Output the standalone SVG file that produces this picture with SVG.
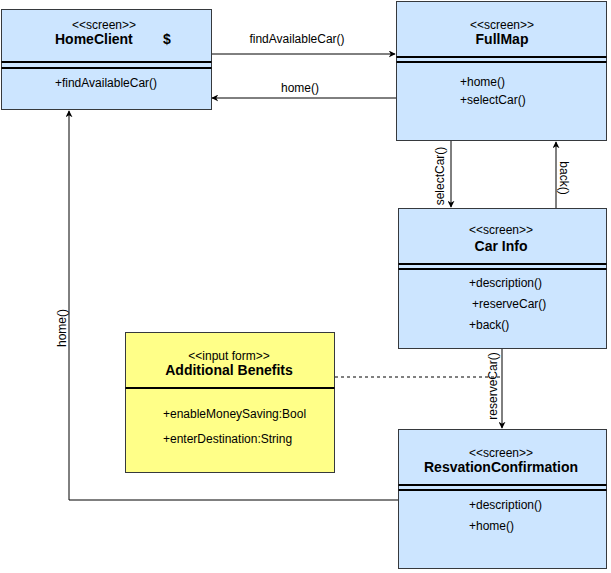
<svg xmlns="http://www.w3.org/2000/svg" width="611" height="573" viewBox="0 0 611 573">
<style>
.box{fill:#cce5ff;stroke:#36393d;stroke-width:1}
.yel{fill:#ffff88;stroke:#36393d;stroke-width:1}
.sep{stroke:#000;stroke-width:2}
.t{font-family:"Liberation Sans",Arial,sans-serif;font-size:12px;fill:#000}
.b{font-family:"Liberation Sans",Arial,sans-serif;font-size:14px;font-weight:bold;fill:#000}
.c{text-anchor:middle}
.e{fill:none;stroke:#000;stroke-width:1}
.d{fill:none;stroke:#000;stroke-width:1;stroke-dasharray:3 3}
</style>
<defs>
<marker id="ah" viewBox="0 0 10 10" refX="9" refY="5" markerWidth="7" markerHeight="7" orient="auto" markerUnits="userSpaceOnUse">
<path d="M0,0 L10,5 L0,10 L3,5 Z" fill="#000"/>
</marker>
</defs>
<g id="connectors">
<line class="e" x1="211" y1="54" x2="395" y2="54" marker-end="url(#ah)"/>
<text class="t c" x="297" y="43">findAvailableCar()</text>
<line class="e" x1="396" y1="98" x2="212" y2="98" marker-end="url(#ah)"/>
<text class="t c" x="300" y="92">home()</text>
<line class="e" x1="451" y1="141" x2="451" y2="207" marker-end="url(#ah)"/>
<text class="t c" transform="translate(444,176) rotate(-90)">selectCar()</text>
<line class="e" x1="556" y1="208" x2="556" y2="142" marker-end="url(#ah)"/>
<text class="t c" transform="translate(560,178) rotate(90)">back()</text>
<line class="e" x1="502" y1="349" x2="502" y2="428" marker-end="url(#ah)"/>
<text class="t c" transform="translate(497,386) rotate(-90)">reserveCar()</text>
<line class="d" x1="335" y1="377" x2="502" y2="377"/>
<polyline class="e" points="398,500 69,500 69,111" marker-end="url(#ah)"/>
<text class="t c" transform="translate(66,328) rotate(-90)">home()</text>
</g>
<g id="HomeClient">
<rect class="box" x="1.5" y="9.5" width="210" height="100"/>
<line class="sep" x1="1.5" y1="62" x2="211.5" y2="62"/>
<line class="sep" x1="1.5" y1="68" x2="211.5" y2="68"/>
<text class="t c" x="104" y="29">&lt;&lt;screen&gt;&gt;</text>
<text class="b" x="55" y="44">HomeClient<tspan x="163">$</tspan></text>
<text class="t c" x="106" y="87">+findAvailableCar()</text>
</g>
<g id="FullMap">
<rect class="box" x="396.5" y="1.5" width="210" height="139"/>
<line class="sep" x1="396.5" y1="57" x2="606.5" y2="57"/>
<line class="sep" x1="396.5" y1="62" x2="606.5" y2="62"/>
<text class="t c" x="502" y="29">&lt;&lt;screen&gt;&gt;</text>
<text class="b c" x="502" y="44">FullMap</text>
<text class="t" x="460" y="86">+home()</text>
<text class="t" x="460" y="104">+selectCar()</text>
</g>
<g id="CarInfo">
<rect class="box" x="398.5" y="208.5" width="208" height="140"/>
<line class="sep" x1="398.5" y1="264" x2="606.5" y2="264"/>
<line class="sep" x1="398.5" y1="269" x2="606.5" y2="269"/>
<text class="t c" x="501" y="234">&lt;&lt;screen&gt;&gt;</text>
<text class="b c" x="501" y="251">Car Info</text>
<text class="t" x="469" y="287">+description()</text>
<text class="t" x="472" y="308">+reserveCar()</text>
<text class="t" x="469" y="329">+back()</text>
</g>
<g id="AdditionalBenefits">
<rect class="yel" x="125.5" y="332.5" width="209" height="140"/>
<line class="sep" x1="125.5" y1="388" x2="334.5" y2="388"/>
<text class="t c" x="229" y="360">&lt;&lt;input form&gt;&gt;</text>
<text class="b c" x="229" y="375">Additional Benefits</text>
<text class="t" x="163" y="418">+enableMoneySaving:Bool</text>
<text class="t" x="163" y="443">+enterDestination:String</text>
</g>
<g id="ResvationConfirmation">
<rect class="box" x="398.5" y="429.5" width="208" height="139"/>
<line class="sep" x1="398.5" y1="485" x2="606.5" y2="485"/>
<line class="sep" x1="398.5" y1="490" x2="606.5" y2="490"/>
<text class="t c" x="501" y="457">&lt;&lt;screen&gt;&gt;</text>
<text class="b c" x="501" y="472">ResvationConfirmation</text>
<text class="t" x="469" y="509">+description()</text>
<text class="t" x="469" y="530">+home()</text>
</g>
</svg>
